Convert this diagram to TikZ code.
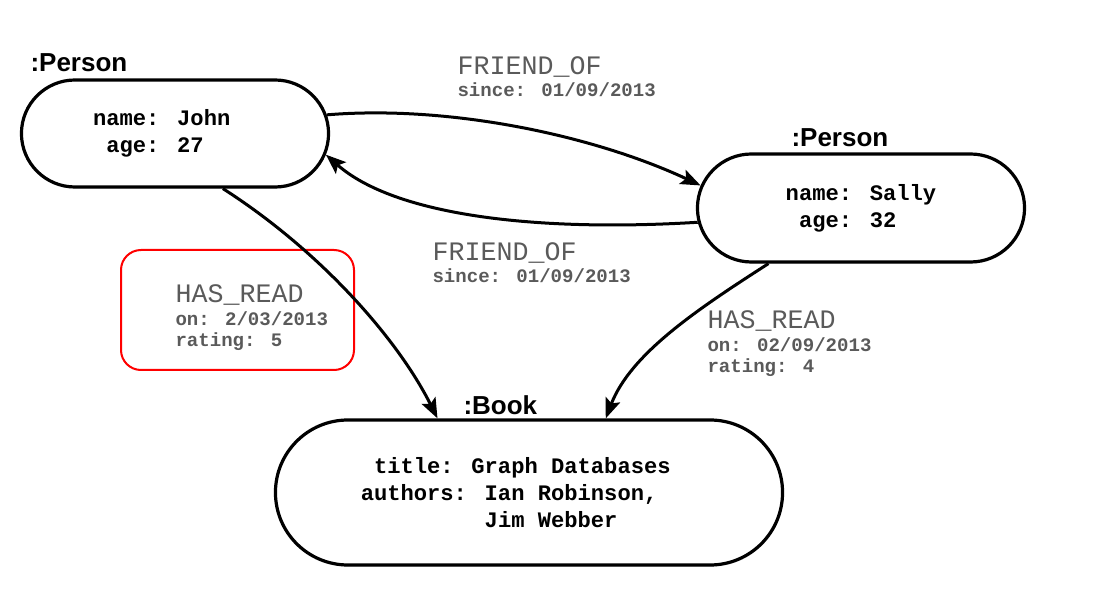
\documentclass[tikz,border=0pt]{standalone}
\usepackage{fontspec}
\usetikzlibrary{shapes.misc,arrows.meta,shadows}

\newfontfamily\courierfont{Liberation Mono}
\newfontfamily\arialfont{Liberation Sans}
\definecolor{propgray}{RGB}{90,90,90}

\tikzset{every picture/.style={line width=0.75pt}}
\tikzset{
	entity/.style={rounded rectangle, draw, line width=2.4pt, fill=white, align=left,
		drop shadow={opacity=0.25, shadow xshift=0.6pt, shadow yshift=-1.2pt},
		font=\courierfont\bfseries\fontsize{16.6}{20.25}\selectfont},
	tag/.style={anchor=base west, inner sep=0pt, font=\arialfont\bfseries\fontsize{19.5}{23}\selectfont},
	relprop/.style={anchor=base west, inner sep=0pt, align=left, text=propgray,
		font=\courierfont\bfseries\fontsize{14.3}{16}\selectfont},
	rel/.style={line width=2.25pt, -{Stealth[length=15pt,width=11.5pt,inset=3pt]}},
}
\newcommand{\reltype}[1]{{\fontsize{20}{22}\mdseries\selectfont #1}}

\begin{document}
\begin{tikzpicture}[x=0.75pt,y=0.75pt,yscale=-1,xscale=1]
	\useasboundingbox (0,0) rectangle (1104,598);

	%Shape: Highlight Rect
	\draw [red, line width=1.5pt, rounded corners=15pt] (121,250) rectangle (354,370);

	%Shape: Rounded Rect (John)
	\node [entity, minimum width=237pt, minimum height=80.25pt] (john) at (175,133.5)
		{name: John\hphantom{aa}\\ \hphantom{a}age: 27};
	%Shape: Rounded Rect (Sally)
	\node [entity, minimum width=252pt, minimum height=81pt] (sally) at (861,208)
		{name: Sally\\ \hphantom{a}age: 32};
	%Shape: Rounded Rect (Book)
	\node [entity, minimum width=387pt, minimum height=108.75pt] (book) at (529,492.5)
		{\hphantom{a}title: Graph Databases\hphantom{aa}\\authors: Ian Robinson,\\ \hphantom{authors: }Jim Webber};

	% Text Node
	\node [tag] (johntag) at (30,72) {:Person};
	% Text Node
	\node [tag] (sallytag) at (791,147) {:Person};
	% Text Node
	\node [tag] (booktag) at (463,415) {:Book};

	%Curve Lines
	\draw [rel] (john.7) .. controls +(120,-10) and +(-109,-51) .. (sally.172);
	%Curve Lines
	\draw [rel] (sally.185) .. controls +(-165,10) and +(68,60) .. (john.-8);
	%Curve Lines
	\draw [rel] (john.-49) .. controls +(97,62) and +(-40,-80) .. (book.141);
	%Curve Lines
	\draw [rel] (sally.211) .. controls +(-70,45) and +(25,-65) .. (book.44);

	% Text Node
	\node [relprop] (friendout) at (457,97) {\reltype{FRIEND\_OF}\\[1pt]since: 01/09/2013};
	% Text Node
	\node [relprop] (friendback) at (432,283) {\reltype{FRIEND\_OF}\\[1pt]since: 01/09/2013};
	% Text Node
	\node [relprop] (readjohn) at (175,347) {\reltype{HAS\_READ}\\[1pt]on: 2/03/2013\\rating: 5};
	% Text Node
	\node [relprop] (readsally) at (707,373) {\reltype{HAS\_READ}\\[1pt]on: 02/09/2013\\rating: 4};

\end{tikzpicture}
\end{document}
